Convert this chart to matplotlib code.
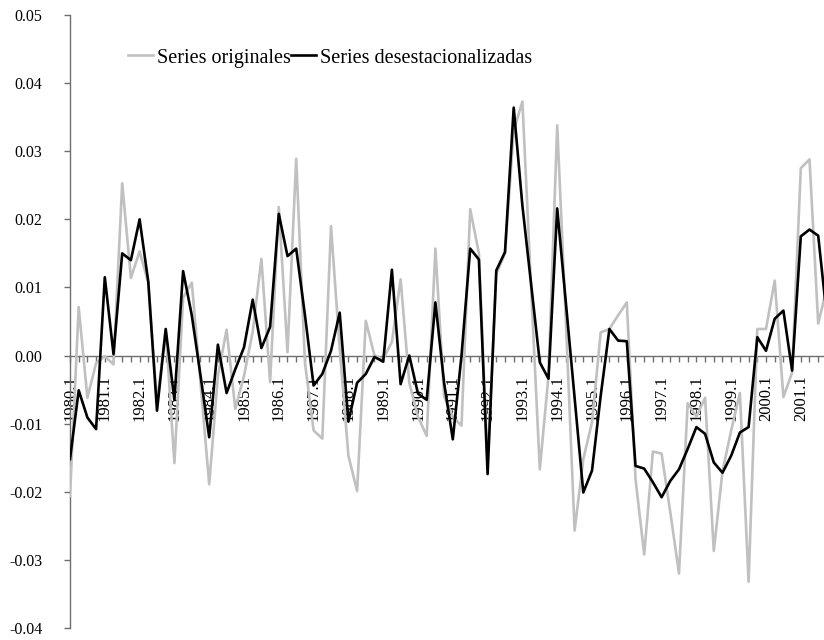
import numpy as np
import matplotlib
matplotlib.use("Agg")
import matplotlib.pyplot as plt

plt.rcParams["font.family"] = ["Liberation Serif", "DejaVu Serif"]

# quarterly categories 1980.1 .. 2001.4
quarters = [f"{y}.{q}" for y in range(1980, 2002) for q in range(1, 5)]

originales = [
    -0.0206, 0.0071, -0.0062, -0.0011, -0.0001, -0.0013, 0.0253, 0.0114, 0.0153, 0.0107,
    -0.0070, 0.0038, -0.0158, 0.0085, 0.0107, -0.0040, -0.0189, -0.0030, 0.0038, -0.0078,
    -0.0030, 0.0035, 0.0142, -0.0039, 0.0218, 0.0005, 0.0289, -0.0010, -0.0110, -0.0122,
    0.0190, 0.0010, -0.0147, -0.0199, 0.0051, 0.0000, -0.0005, 0.0020, 0.0112, -0.0040,
    -0.0090, -0.0118, 0.0157, -0.0060, -0.0090, -0.0103, 0.0215, 0.0150, -0.0160, 0.0120,
    0.0150, 0.0330, 0.0373, 0.0100, -0.0167, -0.0030, 0.0338, 0.0050, -0.0257, -0.0152,
    -0.0098, 0.0034, 0.0039, 0.0059, 0.0078, -0.0181, -0.0292, -0.0141, -0.0144, -0.0230,
    -0.0320, -0.0070, -0.0090, -0.0062, -0.0287, -0.0170, -0.0110, -0.0055, -0.0332, 0.0039,
    0.0039, 0.0110, -0.0061, -0.0025, 0.0275, 0.0288, 0.0047, 0.0100,
]

desestacionalizadas = [
    -0.0152, -0.0051, -0.0091, -0.0108, 0.0115, 0.0002, 0.0150, 0.0140, 0.0200, 0.0108,
    -0.0081, 0.0039, -0.0065, 0.0124, 0.0059, -0.0029, -0.0120, 0.0016, -0.0055, -0.0020,
    0.0012, 0.0082, 0.0011, 0.0042, 0.0208, 0.0146, 0.0157, 0.0060, -0.0044, -0.0027,
    0.0007, 0.0063, -0.0097, -0.0040, -0.0027, -0.0002, -0.0009, 0.0126, -0.0042, 0.0000,
    -0.0056, -0.0065, 0.0078, -0.0040, -0.0123, 0.0000, 0.0157, 0.0141, -0.0174, 0.0125,
    0.0152, 0.0364, 0.0220, 0.0105, -0.0010, -0.0034, 0.0216, 0.0077, -0.0062, -0.0201,
    -0.0169, -0.0059, 0.0039, 0.0022, 0.0021, -0.0162, -0.0166, -0.0186, -0.0208, -0.0184,
    -0.0167, -0.0137, -0.0105, -0.0115, -0.0157, -0.0172, -0.0147, -0.0113, -0.0105, 0.0027,
    0.0007, 0.0054, 0.0066, -0.0022, 0.0175, 0.0185, 0.0176, 0.0056,
]

yticks = [-0.04, -0.03, -0.02, -0.01, 0.0, 0.01, 0.02, 0.03, 0.04, 0.05]

AXIS_GREY = "#6e6e6e"

fig = plt.figure(figsize=(8.24, 6.4), dpi=100)
# the last quarter sits just past the right edge of the canvas
ax = fig.add_axes([70 / 824, 12 / 640, 756.9 / 824, 613 / 640])

x = np.arange(len(quarters))
ax.plot(x, originales, color="#c0c0c0", lw=1.9, zorder=3,
        label="Series originales")
ax.plot(x, desestacionalizadas, color="black", lw=1.9, zorder=4,
        label="Series desestacionalizadas")

ax.set_xlim(0, len(quarters) - 1)
ax.set_ylim(-0.04, 0.05)

for side in ("top", "right"):
    ax.spines[side].set_visible(False)
ax.spines["bottom"].set_position(("data", 0))
for side in ("left", "bottom"):
    ax.spines[side].set_color(AXIS_GREY)
    ax.spines[side].set_linewidth(1.0)

ax.set_yticks(yticks)
ax.set_yticklabels([f"{v:.2f}" for v in yticks])
ax.set_xticks(x)
ax.set_xticklabels([q if q.endswith(".1") else "" for q in quarters])

ax.tick_params(axis="y", direction="out", length=4, width=1.0, pad=16,
               labelsize=11.5, color=AXIS_GREY)
ax.tick_params(axis="x", direction="out", length=4, width=1.0, pad=10,
               labelsize=12, labelrotation=90, color=AXIS_GREY)

ax.legend(ncol=2, frameon=False, loc="center left",
          bbox_to_anchor=(128 / 824, 1 - 58 / 640), bbox_transform=fig.transFigure,
          borderpad=0, borderaxespad=0, handlelength=1.25, handletextpad=0.2,
          columnspacing=0.0, fontsize=14.5)

fig.savefig("out.png", dpi=100)
